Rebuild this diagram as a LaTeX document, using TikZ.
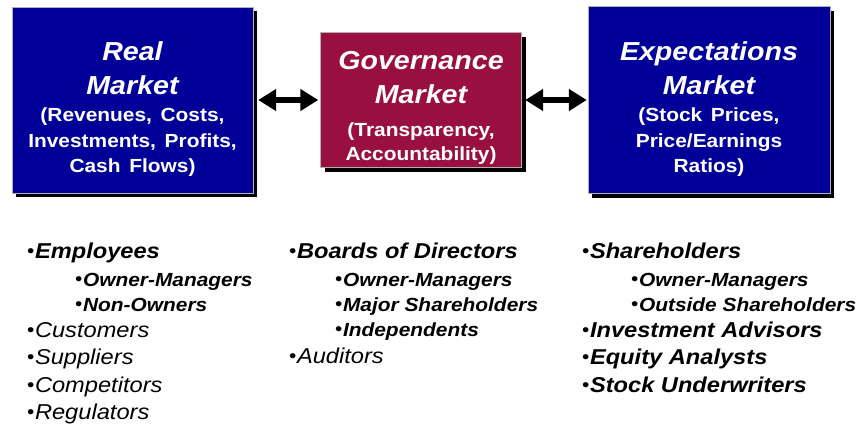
\documentclass[tikz,border=0pt]{standalone}
\usepackage{fontspec}
\setmainfont{Liberation Sans}[FakeStretch=1.1]
\usetikzlibrary{arrows.meta, shadows}
\definecolor{marketblue}{HTML}{000099}
\definecolor{govmaroon}{HTML}{991040}
\newcommand{\lbul}{{\upshape\mdseries\fontsize{19}{19}\selectfont\raisebox{0.5pt}{\textbullet}}\kern0.5pt}

\begin{document}
\begin{tikzpicture}[x=1pt, y=-1pt,
  marketbox/.style={draw=gray!60, thin, inner sep=0pt,
    drop shadow={shadow xshift=4pt, shadow yshift=-4pt, opacity=1, fill=black}},
  boxtext/.style={anchor=north, text=white, align=center, inner sep=0pt},
  biarrow/.style={{Triangle[length=18pt, width=21pt]}-{Triangle[length=18pt, width=21pt]}, line width=6.5pt},
  keyitem/.style={anchor=base west, inner sep=0pt, font=\bfseries\itshape\fontsize{21.5}{21.5}\selectfont},
  plainitem/.style={keyitem, font=\mdseries\itshape\fontsize{21.5}{21.5}\selectfont},
  subitem/.style={keyitem, font=\bfseries\itshape\fontsize{19}{19}\selectfont}]
  \fill[white] (0,0) rectangle (860,432);
  \useasboundingbox (0,0) rectangle (860,432);

  % --- Market boxes ---
  \node[marketbox, fill=marketblue, minimum width=241pt, minimum height=186pt] (real) at (132.5,100) {};
  \node[marketbox, fill=govmaroon, minimum width=201pt, minimum height=135pt] (gov) at (421,100) {};
  \node[marketbox, fill=marketblue, minimum width=242pt, minimum height=187pt] (expect) at (709,100) {};

  \node[boxtext, text width=236pt, font=\bfseries\itshape\fontsize{26}{25.5}\selectfont] (realtext) at (132.5,41.9)
    {Real\\[8pt]Market\\[2pt]\upshape\fontsize{19}{25.5}\selectfont (Revenues, Costs,\\Investments, Profits,\\Cash Flows)};
  \node[boxtext, text width=198pt, font=\bfseries\itshape\fontsize{26}{24}\selectfont] (govtext) at (421,51.4)
    {Governance\\[9.5pt]Market\\[9pt]\upshape\fontsize{19}{24}\selectfont (Transparency,\\Accountability)};
  \node[boxtext, text width=236pt, font=\bfseries\itshape\fontsize{26}{25.5}\selectfont] (expecttext) at (709,41.9)
    {Expectations\\[8pt]Market\\[2pt]\upshape\fontsize{19}{25.5}\selectfont (Stock Prices,\\Price/Earnings\\Ratios)};

  % --- Links between the markets ---
  \draw[biarrow, shorten <=5pt, shorten >=2pt] (real.east) -- (gov.west);
  \draw[biarrow, shorten <=3.5pt, shorten >=1pt] (gov.east) -- (expect.west);

  % --- Real market players ---
  \node[keyitem] (emp) at (27,258) {\lbul Employees};
  \node[subitem] (empown) at (75,286) {\lbul Owner-Managers};
  \node[subitem] (empnon) at (75,311) {\lbul Non-Owners};
  \node[plainitem] (cust) at (27,337) {\lbul Customers};
  \node[plainitem] (supp) at (27,364) {\lbul Suppliers};
  \node[plainitem] (comp) at (27,392) {\lbul Competitors};
  \node[plainitem] (regu) at (27,419) {\lbul Regulators};

  % --- Governance players ---
  \node[keyitem] (board) at (289,258) {\lbul Boards of Directors};
  \node[subitem] (boardown) at (335,286) {\lbul Owner-Managers};
  \node[subitem] (boardmaj) at (335,311) {\lbul Major Shareholders};
  \node[subitem] (boardind) at (335,336) {\lbul Independents};
  \node[plainitem] (audit) at (289,363) {\lbul Auditors};

  % --- Expectations market players ---
  \node[keyitem] (share) at (582,258) {\lbul Shareholders};
  \node[subitem] (shareown) at (631,286) {\lbul Owner-Managers};
  \node[subitem] (shareout) at (631,311) {\lbul Outside Shareholders};
  \node[keyitem] (invest) at (582,337) {\lbul Investment Advisors};
  \node[keyitem] (equity) at (582,364) {\lbul Equity Analysts};
  \node[keyitem] (under) at (582,392) {\lbul Stock Underwriters};
\end{tikzpicture}
\end{document}
